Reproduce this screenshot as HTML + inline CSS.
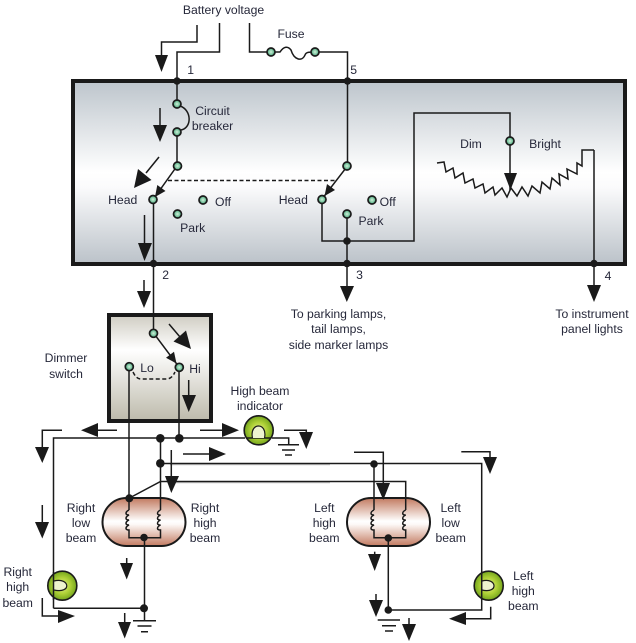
<!DOCTYPE html>
<html><head><meta charset="utf-8">
<style>
html,body{margin:0;padding:0;background:#fff;width:636px;height:643px;overflow:hidden}
svg{display:block}
text{font-family:"Liberation Sans",sans-serif;font-size:12.2px;fill:#26283a;text-anchor:middle}
.w{fill:none;stroke:#1a1a1a;stroke-width:1.5}
.k{fill:#1a1a1a}
.n{fill:url(#gn);stroke:#1a1a1a;stroke-width:1.7}
</style></head><body>
<svg width="636" height="643" viewBox="0 0 636 643" xmlns="http://www.w3.org/2000/svg">
<defs>
<linearGradient id="gm" x1="0" y1="0" x2="0" y2="1"><stop offset="0" stop-color="#bdc5cc"/><stop offset=".5" stop-color="#fff"/><stop offset=".58" stop-color="#fbfbfc"/><stop offset="1" stop-color="#bbc2c9"/></linearGradient>
<linearGradient id="gd" x1="0" y1="0" x2="0" y2="1"><stop offset="0" stop-color="#cfccc2"/><stop offset=".33" stop-color="#fff"/><stop offset="1" stop-color="#bdbaab"/></linearGradient>
<linearGradient id="gl" x1="0" y1="0" x2="0" y2="1"><stop offset="0" stop-color="#c27a60"/><stop offset=".48" stop-color="#fff"/><stop offset=".55" stop-color="#fdf9f7"/><stop offset="1" stop-color="#c27a60"/></linearGradient>
<radialGradient id="gn"><stop offset="0" stop-color="#d0f0d8"/><stop offset="1" stop-color="#45a87c"/></radialGradient>
<radialGradient id="gb"><stop offset="0" stop-color="#e4ee90"/><stop offset=".55" stop-color="#b0d238"/><stop offset="1" stop-color="#74a51c"/></radialGradient>
</defs>

<!-- boxes -->
<rect x="73" y="81" width="552" height="183" fill="url(#gm)" stroke="#1a1a1a" stroke-width="4"/>
<rect x="109" y="315" width="102" height="106" fill="url(#gd)" stroke="#1a1a1a" stroke-width="4"/>

<!-- lamps -->
<rect x="102.5" y="498" width="83" height="48" rx="24" fill="url(#gl)" stroke="#1a1a1a" stroke-width="2"/>
<rect x="347" y="498" width="83" height="48" rx="24" fill="url(#gl)" stroke="#1a1a1a" stroke-width="2"/>

<!-- wires top -->
<path class="w" d="M219.5 23V52H177V104M177 131V166L153.5 199V264V333L179 367V438"/>
<path class="w" d="M249.5 23V52H271M271 52H280C284 46 288 46 291 50C294 60 302 62 305 55C306 52 309 52 315 52H347.5V166L322 199V241H414V113H510V190"/>
<path class="w" d="M180 106C192 110 192 128 181 130"/>
<path class="w" d="M347 214V286M594 150V286"/>
<path class="w" d="M168 180.5H337" stroke-dasharray="4 2.5"/>
<polyline class="w" points="437,163 444,162 446,172 453,168 455,178 463,173 465,183 473,179 475,188 483,184 485,193 493,187 495,195 502,188 507,197 511,188 517,196 522,187 528,196 532,186 540,193 542,182 550,189 552,178 560,185 559,174 568,179 567,169 577,174 577,163 582,166 582,150 594,150"/>
<path class="w" d="M133 372C135 376 137 379 141 379H166C171 379 173 376 175 372" stroke-dasharray="4 2.5"/>

<!-- wires lower -->
<path class="w" d="M129 367V510"/>
<path class="w" d="M53.5 608.3V438H245M272 438H288.7V445"/>
<path class="w" d="M160.5 438V510"/>
<path d="M170 464.7H330M170 482.7H330" fill="none" stroke="#c4c4c4" stroke-width="1.2"/>
<path class="w" d="M160.5 463.5H481.7V610H388.3V538"/>
<path class="w" d="M129.5 498L160.5 481.5H405.7V510"/>
<path class="w" d="M374 464V510"/>
<path class="w" d="M144.5 538V620M53.5 608.3H144.5"/>
<!-- coils -->
<path class="w" d="M129 510c-4 2 -4 5 0 5c-4 2 -4 5 0 5c-4 2 -4 5 0 5c-4 2 -4 5 0 5V537.7H160.5V530c-4 0 -4 -3 0 -5c-4 0 -4 -3 0 -5c-4 0 -4 -3 0 -5c-4 0 -4 -3 0 -5"/>
<path class="w" d="M374 510c-4 2 -4 5 0 5c-4 2 -4 5 0 5c-4 2 -4 5 0 5c-4 2 -4 5 0 5V537.7H405.7V530c-4 0 -4 -3 0 -5c-4 0 -4 -3 0 -5c-4 0 -4 -3 0 -5c-4 0 -4 -3 0 -5"/>

<!-- grounds -->
<path class="w" d="M278 444.7H299M282 450H295M285 455H292"/>
<path class="w" d="M133 620.7H156M137.5 626H151.5M141 631.7H148"/>
<path class="w" d="M377.7 620H400M382 625.7H396M385 631H393"/>

<!-- bulbs -->
<circle cx="258.7" cy="430.3" r="14.5" fill="url(#gb)" stroke="#1a1a1a" stroke-width="1.6"/>
<path d="M246 438H271.5" stroke="#1a1a1a" stroke-width="1.5"/>
<path d="M252.5 438C249 422 268 422 264.5 438" fill="#eef3cf" stroke="#1a1a1a" stroke-width="1.2"/>
<circle cx="62.3" cy="585.7" r="14.5" fill="url(#gb)" stroke="#1a1a1a" stroke-width="1.6"/>
<path d="M54 581C70 577 72 594 54 590" fill="#eef3cf" stroke="#1a1a1a" stroke-width="1.2"/>
<path class="w" d="M53.5 572V600"/>
<circle cx="488.7" cy="585.7" r="14.5" fill="url(#gb)" stroke="#1a1a1a" stroke-width="1.6"/>
<path d="M482 581C497 577 499 594 482 590" fill="#eef3cf" stroke="#1a1a1a" stroke-width="1.2"/>
<path class="w" d="M481.7 572V600"/>

<!-- flow arrows: lines -->
<path class="w" d="M197 25V42H161.5V56"/>
<path class="w" d="M160 108V126"/>
<path class="w" d="M159 157L146 173"/>
<path class="w" d="M144.5 215V244"/>
<path class="w" d="M144 280V292"/>
<path class="w" d="M169 324L180 337"/>
<path class="w" d="M188.7 380V396"/>
<path class="w" d="M117 430.3H97"/>
<path class="w" d="M62 430.3H42.3V448"/>
<path class="w" d="M200 430.3H223"/>
<path class="w" d="M284 430.3H306.3V433"/>
<path class="w" d="M183 454H210"/>
<path class="w" d="M171.3 450V477"/>
<path class="w" d="M42.3 505V523"/>
<path class="w" d="M126.7 558V564"/>
<path class="w" d="M42.3 598V616H59"/>
<path class="w" d="M124.7 613V623"/>
<path class="w" d="M354 452.3H383.3V484"/>
<path class="w" d="M461.3 451.7H490V458"/>
<path class="w" d="M374.7 551.7V555"/>
<path class="w" d="M376 594V601"/>
<path class="w" d="M409 618V625"/>
<path class="w" d="M490.7 606.7V618.7H465"/>

<!-- arrowheads -->
<g class="k">
<polygon points="155,55 168,55 161.5,72"/>
<polygon points="153,125 167,125 160,142"/>
<polygon points="151.5,180 138,169 134,188"/>
<polygon points="138,243 152,243 144.5,261"/>
<polygon points="137,291 151,291 144,308"/>
<polygon points="186,330.5 173.5,341.5 191,349"/>
<polygon points="182,395 196,395 188.7,412"/>
<polygon points="98,423 98,437 81,430.3"/>
<polygon points="35,447 49,447 42.3,463"/>
<polygon points="222,423 222,437 239,430.3"/>
<polygon points="299,432 313,432 306.3,449"/>
<polygon points="209,447 209,461 226,454"/>
<polygon points="165,476 179,476 171.3,493"/>
<polygon points="35,522 49,522 42.3,538.5"/>
<polygon points="120,563 133,563 126.7,579.5"/>
<polygon points="58,610 58,623 75,616"/>
<polygon points="118,622 131,622 124.7,638.5"/>
<polygon points="376,483 390,483 383.3,500"/>
<polygon points="483,457 497,457 490,474"/>
<polygon points="368,554 381,554 374.7,571"/>
<polygon points="369,600 383,600 376,617"/>
<polygon points="402,624 416,624 409,641"/>
<polygon points="466,612 466,625 449,618.7"/>
<polygon points="340,286 354,286 346.8,302"/>
<polygon points="587,285 601,285 594,302"/>
<polygon points="504,173 517,173 510.5,190"/>
<!-- switch arm heads -->
<polygon points="165.5,191 157.3,185 155,197"/>
<polygon points="335,190 327,184 324.5,196"/>
<polygon points="174,351.7 166,357.7 176.5,363.5"/>
<!-- dots -->
<circle cx="177" cy="81" r="3.7"/><circle cx="347.5" cy="81" r="3.7"/>
<circle cx="153.5" cy="263.5" r="3.7"/><circle cx="347" cy="263.5" r="3.7"/><circle cx="594" cy="263.5" r="3.7"/>
<circle cx="347" cy="241" r="3.8"/>
<circle cx="160.3" cy="438.3" r="4.3"/><circle cx="179.3" cy="438.3" r="4.3"/><circle cx="160.3" cy="463.3" r="4.3"/>
<circle cx="129.3" cy="498.3" r="4"/><circle cx="144" cy="537.5" r="3.8"/><circle cx="144" cy="608.3" r="4"/>
<circle cx="374" cy="464" r="3.8"/><circle cx="388.3" cy="538" r="3.8"/><circle cx="388.3" cy="610" r="3.8"/>
</g>

<!-- green nodes -->
<circle class="n" cx="271" cy="52" r="4"/><circle class="n" cx="315" cy="52" r="4"/>
<circle class="n" cx="177" cy="104" r="4"/><circle class="n" cx="177" cy="132" r="4"/><circle class="n" cx="177.5" cy="166" r="4"/>
<circle class="n" cx="153" cy="199.5" r="4"/><circle class="n" cx="177.5" cy="214" r="4"/><circle class="n" cx="203" cy="200" r="4"/>
<circle class="n" cx="347" cy="166" r="4"/><circle class="n" cx="322" cy="199.5" r="4"/><circle class="n" cx="347" cy="214" r="4"/><circle class="n" cx="372" cy="200" r="4"/>
<circle class="n" cx="510" cy="141" r="4"/>
<circle class="n" cx="153.5" cy="333.3" r="4"/><circle class="n" cx="129.3" cy="366.7" r="4"/><circle class="n" cx="179.3" cy="367.3" r="4"/>

<!-- labels -->
<text x="223.5" y="14">Battery voltage</text>
<text x="291" y="38">Fuse</text>
<text x="190.7" y="74">1</text><text x="353.7" y="74">5</text>
<text x="165.7" y="279">2</text><text x="359.5" y="279">3</text><text x="608" y="280">4</text>
<text x="212.5" y="115">Circuit</text><text x="212.5" y="130">breaker</text>
<text x="122.7" y="204">Head</text><text x="223" y="206">Off</text><text x="192.7" y="232">Park</text>
<text x="293.3" y="204">Head</text><text x="387.7" y="206">Off</text><text x="371" y="225">Park</text>
<text x="471" y="148">Dim</text><text x="545" y="148">Bright</text>
<text x="338.5" y="318">To parking lamps,</text><text x="338.5" y="333">tail lamps,</text><text x="338.5" y="349">side marker lamps</text>
<text x="592" y="318">To instrument</text><text x="592" y="333">panel lights</text>
<text x="66" y="362">Dimmer</text><text x="66" y="378">switch</text>
<text x="147" y="372">Lo</text><text x="195" y="373">Hi</text>
<text x="260" y="395">High beam</text><text x="260" y="410">indicator</text>
<text x="81" y="512">Right</text><text x="81" y="527">low</text><text x="81" y="542">beam</text>
<text x="205" y="512">Right</text><text x="205" y="527">high</text><text x="205" y="542">beam</text>
<text x="324.3" y="512">Left</text><text x="324.3" y="527">high</text><text x="324.3" y="542">beam</text>
<text x="450.7" y="512">Left</text><text x="450.7" y="527">low</text><text x="450.7" y="542">beam</text>
<text x="17.7" y="576">Right</text><text x="17.7" y="591">high</text><text x="17.7" y="607">beam</text>
<text x="523.3" y="580">Left</text><text x="523.3" y="595">high</text><text x="523.3" y="610">beam</text>
</svg>
</body></html>
